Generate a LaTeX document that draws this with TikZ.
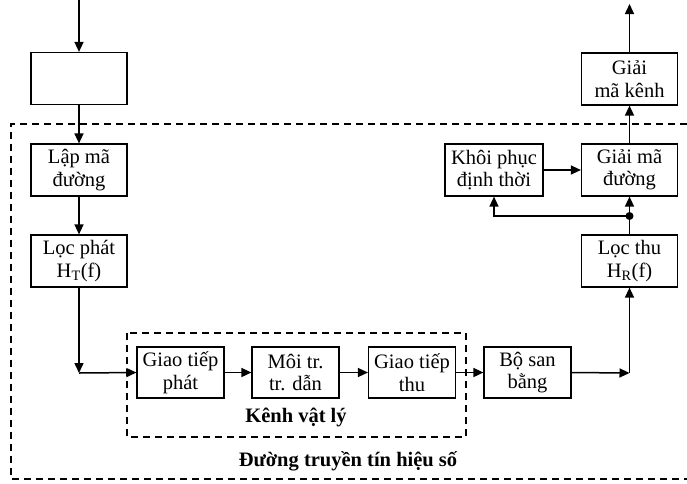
\documentclass[tikz,border=0pt]{standalone}
\usepackage{fontspec}
\setmainfont{Liberation Serif}
\usetikzlibrary{arrows.meta}
\begin{document}
\begin{tikzpicture}[x=1pt,y=-1pt,
  blk/.style={draw,line width=1.2pt,inner sep=0pt,align=center,font=\fontsize{20.5}{22.5}\selectfont},
  wbox/.style={blk,minimum width=96pt,minimum height=52pt},
  nbox/.style={blk,minimum width=87pt,minimum height=51pt},
  conn/.style={line width=1.5pt,-{Triangle[length=10pt,width=9pt]}},
  dsh/.style={line width=1.5pt,dash pattern=on 7pt off 5pt},
  lbl/.style={font=\fontsize{20.5}{22.5}\selectfont\bfseries}]
\useasboundingbox (0,0) rectangle (687,483);
% outer and inner dashed frames
\draw[dsh] (687,124) -- (11,124) -- (11,479) -- (687,479);
\draw[dsh] (127,333) rectangle (466,437);
% boxes
\node[wbox] (src) at (79,78.5) {};
\node[wbox] (lap) at (79,170) {Lập mã\\đường};
\node[wbox] (locp) at (79,261) {Lọc phát\\H\textsubscript{T}(f)};
\node[nbox] (gtp) at (180.5,372.5) {Giao tiếp\\phát};
\node[nbox] (moi) at (295.5,372.5) {Môi tr.\\tr. dẫn};
\node[nbox] (gtt) at (412,372.5) {Giao tiếp\\thu};
\node[nbox] (bsb) at (527.5,372.5) {Bộ san\\bằng};
\node[wbox] (loct) at (629.5,261) {Lọc thu\\H\textsubscript{R}(f)};
\node[wbox] (gmd) at (629.5,170) {Giải mã\\đường};
\node[wbox] (gmk) at (629.5,79) {Giải\\mã kênh};
\node[wbox,minimum width=98pt] (kp) at (494,170) {Khôi phục\\định thời};
% labels
\node[lbl] (kvl) at (296,417) {Kênh vật lý};
\node[lbl] (dt) at (348,461) {Đường truyền tín hiệu số};
% coordinates
\coordinate (in) at (79,0);
\coordinate (out) at (629.5,4);
\coordinate (cl) at (79,373);
\coordinate (cr) at (629.5,373);
\coordinate (jn) at (629.5,216);
% connectors
\draw[conn] (in) -- (src.north);
\draw[conn] (src.south) -- (lap.north);
\draw[conn] (lap.south) -- (locp.north);
\draw[conn] (locp.south) -- (cl);
\draw[conn] (cl) -- (gtp.west);
\draw[conn] (gtp.east) -- (moi.west);
\draw[conn] (moi.east) -- (gtt.west);
\draw[conn] (gtt.east) -- (bsb.west);
\draw[conn] (bsb.east) -- (cr);
\draw[conn] (cr) -- (loct.south);
\draw[conn] (loct.north) -- (gmd.south);
\draw[conn] (jn) -| (kp.south);
\fill (jn) circle (4pt);
\draw[conn] (kp.east) -- (gmd.west);
\draw[conn] (gmd.north) -- (gmk.south);
\draw[conn] (gmk.north) -- (out);
\end{tikzpicture}
\end{document}
